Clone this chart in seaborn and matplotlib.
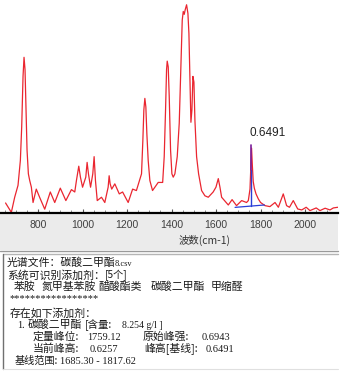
import matplotlib
matplotlib.use("Agg")
import matplotlib.pyplot as plt
import seaborn as sns
import pandas as pd
from matplotlib.patches import Rectangle
from matplotlib.lines import Line2D

# ---- data ----
wavenumber = [654, 680, 695, 710, 720.5, 726.5, 732.5, 737, 741.5, 744.5, 750.5, 756.5,
              762.5, 770, 777.5, 792, 807, 830, 855, 875, 900, 925, 950, 965, 972.5,
              983, 990.5, 1000, 1014.5, 1020.5, 1026.5, 1036, 1046, 1052, 1058, 1066,
              1085, 1100, 1115, 1119.5, 1124, 1131, 1145, 1165, 1180, 1205, 1225, 1242,
              1265, 1271, 1275.5, 1280, 1284.5, 1289, 1295, 1302.5, 1314.5, 1340, 1360,
              1367, 1373, 1377.5, 1380.5, 1385, 1389.5, 1395.5, 1401.5, 1407.5, 1415,
              1425.5, 1434.5, 1442, 1448, 1452.5, 1457, 1461.5, 1467.5, 1473.5, 1478,
              1482.5, 1487, 1491.5, 1496, 1500.5, 1505, 1512.5, 1521.5, 1535, 1550, 1565,
              1587, 1599.5, 1610, 1617.5, 1625, 1655, 1672, 1692, 1715, 1737, 1745,
              1752.5, 1756, 1759.5, 1763, 1767, 1772, 1779.5, 1790, 1800, 1820, 1842,
              1865, 1880, 1902, 1917, 1930, 1947, 1967, 1985, 2005, 2022, 2050, 2067,
              2090, 2112, 2127, 2147]
intensity = [0.105, 0.007, 0.165, 0.29, 0.55, 0.90, 1.43, 1.63, 1.50, 1.22, 0.66, 0.41,
             0.34, 0.27, 0.11, 0.25, 0.165, 0.04, 0.22, 0.11, 0.26, 0.13, 0.245, 0.22,
             0.34, 0.49, 0.375, 0.27, 0.375, 0.53, 0.41, 0.27, 0.41, 0.59, 0.34, 0.13,
             0.165, 0.11, 0.27, 0.39, 0.305, 0.25, 0.305, 0.20, 0.22, 0.11, 0.25, 0.235,
             0.41, 0.76, 1.08, 1.20, 1.11, 0.83, 0.55, 0.34, 0.235, 0.32, 0.32, 0.59,
             1.08, 1.50, 1.59, 1.53, 1.22, 0.66, 0.41, 0.375, 0.41, 0.59, 0.94, 1.53,
             2.02, 2.11, 2.08, 2.13, 2.18, 2.09, 1.88, 1.39, 0.95, 1.08, 1.43, 1.37,
             0.97, 0.59, 0.41, 0.235, 0.18, 0.165, 0.22, 0.27, 0.36, 0.27, 0.165, 0.084,
             0.14, 0.077, 0.13, 0.11, 0.13, 0.25, 0.48, 0.68, 0.50, 0.33, 0.26, 0.20,
             0.147, 0.11, 0.077, 0.067, 0.11, 0.06, 0.20, 0.077, 0.06, 0.13, 0.042,
             0.032, 0.06, 0.025, 0.053, 0.025, 0.05, 0.032, 0.053, 0.06]

baseline_x = [1685.30, 1817.62]
baseline_y = [0.059, 0.084]
peak_pos = 1759.12
peak_top = 0.714
peak_base = 0.072
peak_label = "0.6491"

xticks = [800, 1000, 1200, 1400, 1600, 1800, 2000]
xlabel = "波数(cm-1)"

CJK = ["Noto Sans CJK SC", "DejaVu Sans"]
SERIF = ["Liberation Serif", "DejaVu Serif"]

W, H = 346, 373
sns.set_style("white")
fig = plt.figure(figsize=(W / 100, H / 100), dpi=100)

def px(x, y):
    return x / W, 1 - y / H

# gray axis strip and panel borders (figure coords)
fig.patches.append(Rectangle(px(0, 250), 338 / W, 37 / H, transform=fig.transFigure,
                             facecolor="#ebebeb", edgecolor="none", zorder=-10))
fig.lines.append(Line2D([0, 338 / W], [1 - 251 / H] * 2, transform=fig.transFigure,
                        color="#9a9a9a", lw=1, zorder=-5))
fig.lines.append(Line2D([3 / W, 338 / W], [1 - 254 / H] * 2, transform=fig.transFigure,
                        color="#b5b5b5", lw=1, zorder=-5))
fig.lines.append(Line2D([3 / W, 3 / W], [1 - 254 / H, 1 - 369 / H], transform=fig.transFigure,
                        color="#707070", lw=1, zorder=-5))
fig.lines.append(Line2D([3 / W, 338 / W], [1 - 369 / H] * 2, transform=fig.transFigure,
                        color="#e0e0e0", lw=0.8, zorder=-5))

ax = fig.add_axes([0, 1 - 213 / H, 338 / W, 213 / H])
ax.set_facecolor("white")
df = pd.DataFrame({"wn": wavenumber, "val": intensity})
sns.lineplot(data=df, x="wn", y="val", ax=ax, color="#ea2630", lw=0.9)

ax.plot(baseline_x, baseline_y, color="#2a3fd8", lw=0.9)
ax.plot([peak_pos, peak_pos], [peak_base, 0.45], color="#2a3fd8", lw=1.0)
ax.plot([peak_pos, peak_pos], [0.45, peak_top], color="#7a1f9a", lw=1.2)
ax.text(peak_pos + 72, peak_top + 0.12, peak_label, ha="center", va="center",
        fontsize=8.5, color="#222222", family=["Liberation Sans"])

ax.set_xlim(629, 2148)
ax.set_ylim(0, 2.23)
ax.set_xticks(xticks)
ax.set_xticklabels([str(t) for t in xticks], fontsize=7.5, color="#404040",
                   family="Liberation Sans")
ax.set_xticks(range(650, 2150, 50), minor=True)
ax.tick_params(axis="x", which="major", direction="in", length=3, width=0.8,
               color="#555555", pad=5, bottom=True, labelbottom=True)
ax.tick_params(axis="x", which="minor", direction="in", length=2, width=0.6,
               color="#777777", bottom=True)
ax.set_yticks([])
ax.set_xlabel("")
ax.set_ylabel("")
for s in ["top", "left", "right"]:
    ax.spines[s].set_visible(False)
ax.spines["bottom"].set_color("black")
ax.spines["bottom"].set_linewidth(1.6)

fig.text(*px(205, 240), xlabel, ha="center", va="center", fontsize=7.5,
         color="#333333", family=CJK)

def T(x, y, s, fam=CJK, size=7.8, color="#1a1a1a"):
    fig.text(*px(x, y), s, ha="left", va="center", fontsize=size, color=color, family=fam)

T(7, 263, "光谱文件：碳酸二甲酯")
T(115, 264, "8.csv", SERIF, 6)
T(7, 275, "系统可识别添加剂：")
T(105, 275, "[5个]", CJK, 7.3)
T(14, 287, "苯胺")
T(42, 287, "氮甲基苯胺")
T(98, 287, "醋酸酯类")
T(151, 287, "碳酸二甲酯")
T(211, 287, "甲缩醛")
T(9, 299, "*****************", SERIF, 7.5)
T(10, 313, "存在如下添加剂：")
T(17, 325, "1.", SERIF, 7.5)
T(28, 325, "碳酸二甲酯")
T(85, 325, "[含量:", CJK, 7.5)
T(122, 325, "8.254 g/l ]", SERIF, 7)
T(33, 337, "定量峰位:")
T(87, 337, "1759.12", SERIF, 7.5)
T(143, 337, "原始峰强:")
T(202, 337, "0.6943", SERIF, 7.5)
T(33, 349, "当前峰高:")
T(90, 349, "0.6257", SERIF, 7.5)
T(144, 349, "峰高[基线]:")
T(206, 349, "0.6491", SERIF, 7.5)
T(15, 361, "基线范围:", CJK, 7.3)
T(60, 361, "1685.30 - 1817.62", SERIF, 7.5)

fig.savefig("out.png", dpi=100, facecolor="white")
